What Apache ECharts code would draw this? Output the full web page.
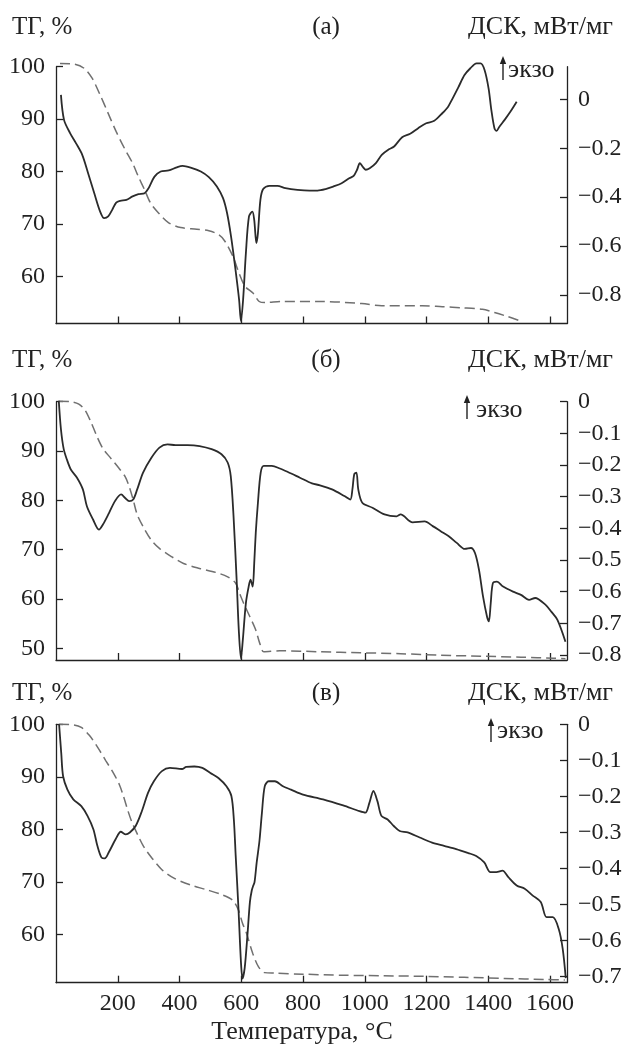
<!DOCTYPE html>
<html><head><meta charset="utf-8">
<script src="https://cdn.jsdelivr.net/npm/echarts@6/dist/echarts.min.js"></script>
<style>html,body{margin:0;padding:0;background:#fff}#c{width:632px;height:1045px}</style>
</head><body><div id="c"></div>
<script>
// ---------- Panel (а) ----------
const tempA_tg = [13,59,91,117,143,169,195,222,248,267,287,306,332,365,404,456,495,528,547,573,593,612,638,658,678,730,860,990,1055,1186,1251,1316,1381,1420,1459,1498];
const tgA      = [100.6,100.5,99.7,97.8,94.6,91.1,87.6,84.4,81.6,79.0,76.5,74.0,72.1,70.2,69.3,69.0,68.7,67.9,66.7,63.8,60.6,58.1,56.8,55.2,55.0,55.2,55.2,54.8,54.4,54.4,54.2,54.0,53.7,53.1,52.4,51.6];
const tempA_dsc = [16,26,46,65,85,104,124,143,156,169,182,195,208,228,248,267,287,300,319,339,365,391,410,436,469,495,521,541,554,567,580,593,599,606,615,625,636,642,649,654,662,671,691,717,743,782,821,847,873,899,925,951,964,975,984,993,1003,1016,1036,1055,1075,1095,1121,1147,1173,1199,1225,1251,1270,1283,1303,1323,1342,1362,1375,1388,1401,1410,1420,1427,1436,1453,1472,1492];
const dscA      = [0.018,-0.084,-0.139,-0.180,-0.227,-0.302,-0.384,-0.459,-0.486,-0.479,-0.452,-0.422,-0.415,-0.411,-0.397,-0.388,-0.384,-0.363,-0.316,-0.295,-0.291,-0.278,-0.272,-0.279,-0.295,-0.318,-0.356,-0.404,-0.465,-0.561,-0.683,-0.819,-0.907,-0.819,-0.629,-0.479,-0.459,-0.493,-0.588,-0.547,-0.411,-0.367,-0.354,-0.354,-0.363,-0.370,-0.373,-0.373,-0.367,-0.356,-0.343,-0.322,-0.313,-0.288,-0.261,-0.275,-0.288,-0.282,-0.261,-0.227,-0.207,-0.193,-0.155,-0.141,-0.118,-0.098,-0.088,-0.057,-0.030,0.000,0.049,0.099,0.127,0.147,0.147,0.120,0.045,-0.044,-0.118,-0.129,-0.112,-0.084,-0.050,-0.010];

// ---------- Panel (б) ----------
const tempB_tg = [9,48,74,94,113,133,152,178,204,224,237,250,263,282,308,334,374,413,465,517,556,582,595,608,628,647,660,673,725,855,986,1116,1246,1376,1506,1611,1650];
const tgB      = [100.1,100.0,99.5,98.3,95.9,92.9,90.5,88.5,86.5,84.8,82.8,80.1,77.1,74.7,72.0,70.3,68.6,67.2,66.2,65.4,64.5,63.2,61.1,59.1,56.4,53.7,51.0,49.3,49.5,49.3,49.1,48.9,48.6,48.4,48.2,48.0,47.9];
const tempB_dsc = [9,16,25,35,48,68,87,100,120,139,152,172,191,211,224,237,250,263,282,309,335,361,387,426,465,504,536,556,566,575,585,592,599,605,615,624,630,637,642,647,654,663,673,699,725,751,790,829,855,894,934,953,960,966,973,979,992,1025,1064,1103,1116,1155,1194,1220,1246,1272,1298,1324,1344,1357,1370,1383,1396,1402,1408,1415,1428,1448,1480,1506,1532,1552,1585,1604,1624,1650];
const dscB      = [0.003,-0.087,-0.150,-0.182,-0.214,-0.240,-0.277,-0.330,-0.372,-0.404,-0.388,-0.351,-0.314,-0.293,-0.304,-0.314,-0.309,-0.277,-0.224,-0.177,-0.145,-0.135,-0.137,-0.137,-0.140,-0.150,-0.166,-0.192,-0.235,-0.362,-0.562,-0.721,-0.811,-0.753,-0.636,-0.584,-0.562,-0.584,-0.510,-0.414,-0.319,-0.224,-0.203,-0.203,-0.211,-0.222,-0.240,-0.258,-0.264,-0.277,-0.298,-0.309,-0.277,-0.229,-0.224,-0.277,-0.319,-0.335,-0.356,-0.362,-0.356,-0.381,-0.378,-0.393,-0.409,-0.425,-0.446,-0.465,-0.462,-0.478,-0.531,-0.615,-0.679,-0.694,-0.636,-0.573,-0.568,-0.584,-0.600,-0.610,-0.626,-0.620,-0.641,-0.663,-0.689,-0.758];

// ---------- Panel (в) ----------
const tempC_tg = [10,56,82,108,134,161,187,206,219,232,245,265,284,311,343,382,435,487,539,572,591,604,617,637,656,676,709,800,930,1061,1191,1322,1452,1583,1648];
const tgC      = [100.0,99.9,99.4,97.9,95.7,93.1,90.6,88.4,86.2,83.7,81.5,78.9,76.7,74.5,72.3,70.7,69.4,68.5,67.5,66.5,64.6,62.1,60.2,56.4,53.8,52.7,52.6,52.4,52.2,52.1,52.0,51.8,51.6,51.4,51.3];
const tempC_dsc = [10,17,23,37,56,82,102,121,134,147,158,171,193,210,226,239,258,278,298,317,343,369,408,422,448,474,500,526,552,568,576,582,591,599,604,611,620,628,634,639,643,650,659,667,676,689,709,735,761,800,865,930,983,1002,1015,1028,1041,1054,1074,1094,1113,1139,1178,1218,1257,1296,1335,1361,1387,1407,1426,1446,1465,1492,1518,1544,1570,1589,1609,1628,1641,1651];
const dscC      = [0.000,-0.080,-0.144,-0.181,-0.208,-0.227,-0.254,-0.291,-0.337,-0.369,-0.372,-0.355,-0.319,-0.298,-0.305,-0.300,-0.282,-0.241,-0.190,-0.158,-0.130,-0.121,-0.124,-0.118,-0.117,-0.121,-0.135,-0.149,-0.172,-0.199,-0.264,-0.365,-0.512,-0.659,-0.705,-0.677,-0.585,-0.493,-0.461,-0.447,-0.438,-0.383,-0.323,-0.245,-0.172,-0.158,-0.158,-0.172,-0.181,-0.195,-0.208,-0.225,-0.241,-0.245,-0.218,-0.185,-0.213,-0.254,-0.264,-0.282,-0.296,-0.300,-0.314,-0.328,-0.337,-0.346,-0.357,-0.365,-0.383,-0.410,-0.410,-0.406,-0.424,-0.447,-0.456,-0.475,-0.493,-0.535,-0.535,-0.567,-0.622,-0.704];

// ---------- Axis ticks / labels ----------
const xTicks = [200,400,600,800,1000,1200,1400,1600];
const tgTicksA = [60,70,80,90,100];
const tgTicksB = [50,60,70,80,90,100];
const tgTicksC = [60,70,80,90,100];
const dscTicksA = [0,-0.2,-0.4,-0.6,-0.8];
const dscTicksB = [0,-0.1,-0.2,-0.3,-0.4,-0.5,-0.6,-0.7,-0.8];
const dscTicksC = [0,-0.1,-0.2,-0.3,-0.4,-0.5,-0.6,-0.7];
const panelLetters = ['(а)','(б)','(в)'];

const FONT = "'Liberation Serif','Times New Roman',serif";
const INK = '#222';
const zip = (xs, ys) => xs.map((x, i) => [x, ys[i]]);

const layout = [
  {top: 66.7, height: 256.8, tg: [51, 100], dsc: [-0.9165, 0.1333], titleY: 27, exo: {ax: 503, tx: 508, y: 70, a1: 56, a2: 80}},
  {top: 401.7, height: 258.3, tg: [47.63, 100], dsc: [-0.8158, 0], titleY: 360, exo: {ax: 467, tx: 476, y: 410, a1: 395, a2: 419}},
  {top: 724.3, height: 258.4, tg: [50.78, 100], dsc: [-0.7166, 0], titleY: 693, exo: {ax: 491, tx: 497, y: 731, a1: 718, a2: 742}}
];
const tgTicks = [tgTicksA, tgTicksB, tgTicksC];
const dscTicks = [dscTicksA, dscTicksB, dscTicksC];
const tgData = [zip(tempA_tg, tgA), zip(tempB_tg, tgB), zip(tempC_tg, tgC)];
const dscData = [zip(tempA_dsc, dscA), zip(tempB_dsc, dscB), zip(tempC_dsc, dscC)];

const axisLine = {show: true, onZero: false, lineStyle: {color: INK, width: 1.3}};
const fmtDsc = v => (Math.abs(v) < 1e-9 ? '0' : (v < 0 ? '\u2212' : '') + Math.abs(v).toFixed(1));

const grid = [], xAxis = [], yAxis = [], series = [], graphic = [];
layout.forEach((L, i) => {
  grid.push({left: 56, width: 511, top: L.top, height: L.height, containLabel: false});
  xAxis.push({
    type: 'value', gridIndex: i, min: 0, max: 1655,
    axisLine: axisLine,
    axisTick: {show: true, inside: true, length: 7, lineStyle: {color: INK, width: 1.3}, customValues: xTicks},
    axisLabel: {show: i === 2, customValues: xTicks, margin: 9, fontFamily: FONT, fontSize: 24, color: INK, formatter: v => String(v)},
    splitLine: {show: false}
  });
  yAxis.push({
    type: 'value', gridIndex: i, position: 'left', min: L.tg[0], max: L.tg[1],
    axisLine: axisLine,
    axisTick: {show: true, inside: true, length: 7, lineStyle: {color: INK, width: 1.3}, customValues: tgTicks[i]},
    axisLabel: {customValues: tgTicks[i], margin: 11, fontFamily: FONT, fontSize: 24, color: INK, formatter: v => String(v)},
    splitLine: {show: false}
  });
  yAxis.push({
    type: 'value', gridIndex: i, position: 'right', min: L.dsc[0], max: L.dsc[1],
    axisLine: axisLine,
    axisTick: {show: true, inside: true, length: 7, lineStyle: {color: INK, width: 1.3}, customValues: dscTicks[i]},
    axisLabel: {customValues: dscTicks[i], margin: 11, fontFamily: FONT, fontSize: 24, color: INK, formatter: fmtDsc},
    splitLine: {show: false}
  });
  series.push({
    type: 'line', xAxisIndex: i, yAxisIndex: 2 * i, data: tgData[i],
    showSymbol: false, smooth: 0.3, clip: false, z: 2,
    lineStyle: {color: '#707070', width: 1.5, type: [10, 5]}
  });
  series.push({
    type: 'line', xAxisIndex: i, yAxisIndex: 2 * i + 1, data: dscData[i],
    showSymbol: false, smooth: 0.3, clip: false, z: 3,
    lineStyle: {color: '#2b2b2b', width: 1.8}
  });
  const E = L.exo;
  graphic.push(
    {type: 'text', x: 12, y: L.titleY, style: {text: 'ТГ, %', font: '25px ' + FONT, fill: INK, align: 'left', verticalAlign: 'middle'}},
    {type: 'text', x: 326, y: L.titleY, style: {text: panelLetters[i], font: '25px ' + FONT, fill: INK, align: 'center', verticalAlign: 'middle'}},
    {type: 'text', x: 613, y: L.titleY, style: {text: 'ДСК, мВт/мг', font: '26px ' + FONT, fill: INK, align: 'right', verticalAlign: 'middle'}},
    {type: 'line', shape: {x1: E.ax, y1: E.a1 + 5, x2: E.ax, y2: E.a2}, style: {stroke: INK, lineWidth: 1.4}},
    {type: 'polygon', shape: {points: [[E.ax, E.a1], [E.ax - 3.2, E.a1 + 8], [E.ax + 3.2, E.a1 + 8]]}, style: {fill: INK}},
    {type: 'text', x: E.tx, y: E.y, style: {text: 'экзо', font: '26px ' + FONT, fill: INK, align: 'left', verticalAlign: 'middle'}}
  );
});
graphic.push({type: 'text', x: 302, y: 1032, style: {text: 'Температура, °C', font: '26px ' + FONT, fill: INK, align: 'center', verticalAlign: 'middle'}});

const chart = echarts.init(document.getElementById('c'), null, {renderer: 'canvas'});
chart.setOption({animation: false, backgroundColor: '#fff', grid, xAxis, yAxis, series, graphic});
</script></body></html>
